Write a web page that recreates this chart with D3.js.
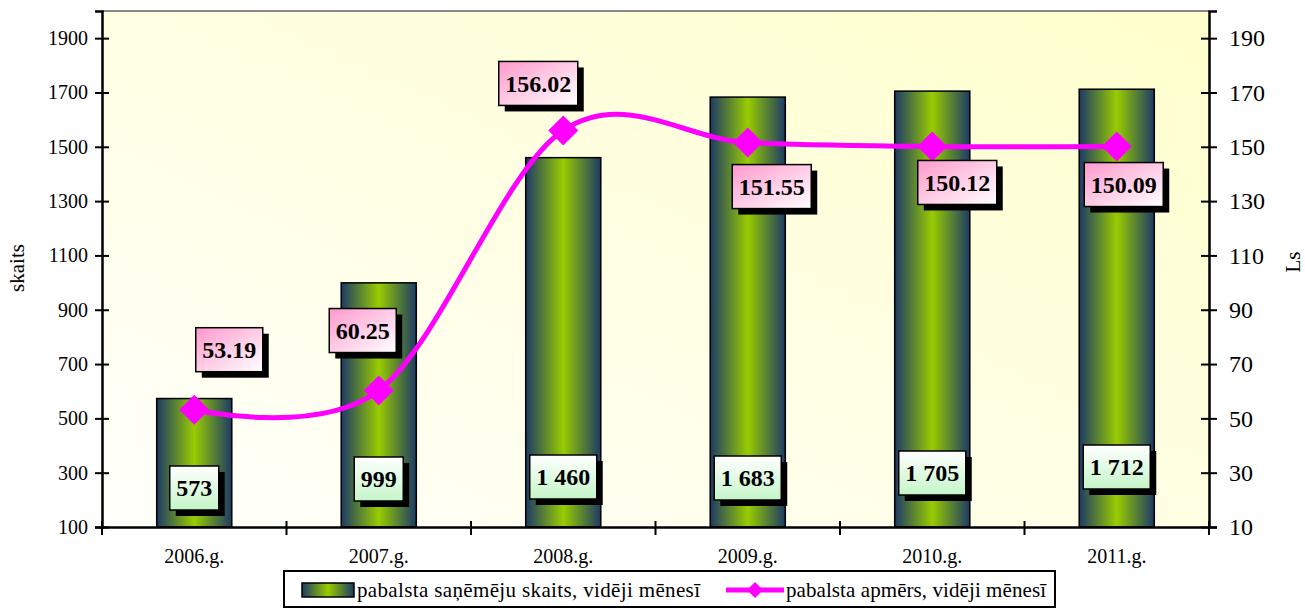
<!DOCTYPE html>
<html>
<head>
<meta charset="utf-8">
<script src="https://d3js.org/d3.v7.min.js"></script>
<style>
  body { margin: 0; background: #fff; }
  svg text { font-family: "Liberation Serif", "Times New Roman", serif; fill: #000; }
</style>
</head>
<body>
<div id="chart"></div>
<script>
// data
var years = ["2006.g.", "2007.g.", "2008.g.", "2009.g.", "2010.g.", "2011.g."];
var recipients = [573, 999, 1460, 1683, 1705, 1712];            // left axis, bars
var recipientLabels = ["573", "999", "1 460", "1 683", "1 705", "1 712"];
var amount = [53.19, 60.25, 156.02, 151.55, 150.12, 150.09];    // right axis, line
var leftTicks = [100, 300, 500, 700, 900, 1100, 1300, 1500, 1700, 1900];
var rightTicks = [10, 30, 50, 70, 90, 110, 130, 150, 170, 190];
var barName = "pabalsta  saņēmēju skaits, vidēji mēnesī";
var lineName = "pabalsta apmērs, vidēji mēnesī";

// manual label placement (like the hand-moved labels in the original)
var lineLabelNudge = [[35, -60], [-16, -60], [-25, -47], [24, 44], [25, 36], [7, 38]];
var barLabelLift = [39, 48, 50, 49, 54, 60];

var W = 1305, H = 609;
var plot = {left: 102, right: 1209, top: 11, bottom: 527};
var serif = "'Liberation Serif', 'Times New Roman', serif";

var svg = d3.select("#chart").append("svg")
    .attr("width", W)
    .attr("height", H)
    .style("font-family", serif);

var defs = svg.append("defs");

var bg = defs.append("linearGradient").attr("id", "bg")
    .attr("x1", "0%").attr("y1", "100%").attr("x2", "100%").attr("y2", "0%");
bg.append("stop").attr("offset", "0%").attr("stop-color", "#fffffb");
bg.append("stop").attr("offset", "100%").attr("stop-color", "#ffffcc");

var barGrad = defs.append("linearGradient").attr("id", "barGrad")
    .attr("x1", "0%").attr("y1", "0%").attr("x2", "100%").attr("y2", "0%");
barGrad.append("stop").attr("offset", "0%").attr("stop-color", "#1c3a66");
barGrad.append("stop").attr("offset", "50%").attr("stop-color", "#99cc00");
barGrad.append("stop").attr("offset", "100%").attr("stop-color", "#1c3a66");

var pinkGrad = defs.append("linearGradient").attr("id", "pinkGrad")
    .attr("x1", "0%").attr("y1", "0%").attr("x2", "100%").attr("y2", "100%");
pinkGrad.append("stop").attr("offset", "0%").attr("stop-color", "#ff99cc");
pinkGrad.append("stop").attr("offset", "100%").attr("stop-color", "#ffffff");

var greenGrad = defs.append("linearGradient").attr("id", "greenGrad")
    .attr("x1", "0%").attr("y1", "0%").attr("x2", "0%").attr("y2", "100%");
greenGrad.append("stop").attr("offset", "0%").attr("stop-color", "#ffffff");
greenGrad.append("stop").attr("offset", "100%").attr("stop-color", "#c4f5c8");

// scales
var x = d3.scaleBand().domain(years).range([plot.left, plot.right]).padding(0);
var yL = d3.scaleLinear().domain([100, 2000]).range([plot.bottom, plot.top]);
var yR = d3.scaleLinear().domain([10, 200]).range([plot.bottom, plot.top]);
var barW = x.bandwidth() * 0.407;

// plot area background
svg.append("rect")
    .attr("x", plot.left).attr("y", plot.top)
    .attr("width", plot.right - plot.left).attr("height", plot.bottom - plot.top)
    .attr("fill", "url(#bg)");
svg.append("line")
    .attr("x1", plot.left).attr("x2", plot.right)
    .attr("y1", plot.top).attr("y2", plot.top)
    .attr("stroke", "#888").attr("stroke-width", 2);

// bars
svg.selectAll(".bar").data(recipients).enter().append("rect")
    .attr("class", "bar")
    .attr("x", function(d, i) { return x(years[i]) + x.bandwidth() / 2 - barW / 2; })
    .attr("y", function(d) { return yL(d); })
    .attr("width", barW)
    .attr("height", function(d) { return yL(100) - yL(d); })
    .attr("fill", "url(#barGrad)")
    .attr("stroke", "#000")
    .attr("stroke-width", 1.5);

// axes
var axL = svg.append("g")
    .attr("transform", "translate(" + plot.left + ",0)")
    .call(d3.axisLeft(yL).tickValues(leftTicks).tickFormat(d3.format("d")).tickSize(7).tickPadding(7));
axL.selectAll(".tick line").attr("x1", 7);

var axR = svg.append("g")
    .attr("transform", "translate(" + plot.right + ",0)")
    .call(d3.axisRight(yR).tickValues(rightTicks).tickFormat(d3.format("d")).tickSize(8).tickPadding(12));
axR.selectAll(".tick line").attr("x1", -8);

var axB = svg.append("g")
    .attr("transform", "translate(0," + plot.bottom + ")")
    .call(d3.axisBottom(x).tickSize(0).tickPadding(22));

// category boundary ticks on x axis
svg.selectAll(".xtick").data(d3.range(years.length + 1)).enter().append("line")
    .attr("x1", function(i) { return plot.left + i * x.step(); })
    .attr("x2", function(i) { return plot.left + i * x.step(); })
    .attr("y1", plot.bottom - 6).attr("y2", plot.bottom + 8)
    .attr("stroke", "#000").attr("stroke-width", 2);

[axL, axR, axB].forEach(function(a) {
  a.attr("font-family", serif);
  a.select(".domain").attr("stroke", "#000").attr("stroke-width", 2.5);
  a.selectAll(".tick line").attr("stroke", "#000").attr("stroke-width", 2);
  a.selectAll("text").attr("fill", "#000");
});
axL.selectAll("text").style("font-size", "20px");
axR.selectAll("text").style("font-size", "24px");
axB.selectAll("text").style("font-size", "20px");

// axis titles
svg.append("text")
    .attr("transform", "translate(24,268) rotate(-90)")
    .attr("text-anchor", "middle")
    .style("font-size", "21px")
    .text("skaits");
svg.append("text")
    .attr("transform", "translate(1300,262) rotate(-90)")
    .attr("text-anchor", "middle")
    .style("font-size", "21px")
    .text("Ls");

// line
var pts = amount.map(function(d, i) { return [x(years[i]) + x.bandwidth() / 2, yR(d)]; });
svg.append("path")
    .datum(pts)
    .attr("fill", "none")
    .attr("stroke", "#ff00ff")
    .attr("stroke-width", 5)
    .attr("d", d3.line().curve(d3.curveCardinal.tension(0)));

svg.selectAll(".mark").data(pts).enter().append("path")
    .attr("class", "mark")
    .attr("transform", function(p) { return "translate(" + p[0] + "," + p[1] + ")"; })
    .attr("d", "M0,-15L15,0L0,15L-15,0Z")
    .attr("fill", "#ff00ff");

// labelled box helper
function labelBox(cx, cy, txt, fill) {
  var g = svg.append("g");
  var shadow = g.append("rect").attr("fill", "#000");
  var box = g.append("rect").attr("fill", fill).attr("stroke", "#000").attr("stroke-width", 1.5);
  var t = g.append("text")
      .attr("x", cx).attr("y", cy)
      .attr("text-anchor", "middle")
      .attr("dy", "0.35em")
      .style("font-family", serif)
      .style("font-size", "24px")
      .style("font-weight", "bold")
      .text(txt);
  var w = t.node().getComputedTextLength() + 13, h = 44;
  box.attr("x", cx - w / 2).attr("y", cy - h / 2).attr("width", w).attr("height", h);
  shadow.attr("x", cx - w / 2 + 6).attr("y", cy - h / 2 + 6).attr("width", w).attr("height", h);
}

recipients.forEach(function(d, i) {
  labelBox(x(years[i]) + x.bandwidth() / 2, plot.bottom - barLabelLift[i], recipientLabels[i], "url(#greenGrad)");
});
amount.forEach(function(d, i) {
  labelBox(pts[i][0] + lineLabelNudge[i][0], pts[i][1] + lineLabelNudge[i][1], d.toFixed(2), "url(#pinkGrad)");
});

// legend
var lg = svg.append("g");
lg.append("rect")
    .attr("x", 284).attr("y", 571).attr("width", 771).attr("height", 36)
    .attr("fill", "#fff").attr("stroke", "#000").attr("stroke-width", 2);
lg.append("rect")
    .attr("x", 302).attr("y", 583).attr("width", 52).attr("height", 14)
    .attr("fill", "url(#barGrad)").attr("stroke", "#000").attr("stroke-width", 1.5);
lg.append("text")
    .attr("x", 357).attr("y", 597)
    .style("font-family", serif)
    .style("font-size", "21px")
    .attr("textLength", 343)
    .text(barName);
lg.append("line")
    .attr("x1", 726).attr("x2", 784).attr("y1", 590).attr("y2", 590)
    .attr("stroke", "#ff00ff").attr("stroke-width", 5);
lg.append("path")
    .attr("transform", "translate(755,590)")
    .attr("d", "M0,-8L8,0L0,8L-8,0Z")
    .attr("fill", "#ff00ff");
lg.append("text")
    .attr("x", 786).attr("y", 597)
    .style("font-family", serif)
    .style("font-size", "21px")
    .attr("textLength", 260)
    .text(lineName);
</script>
</body>
</html>
